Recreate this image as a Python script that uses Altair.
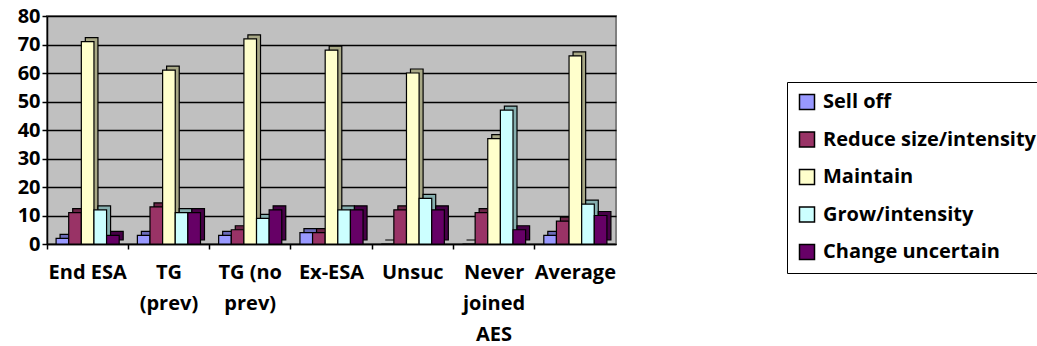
import altair as alt
import pandas as pd

# Category labels, split into the lines they are printed on
CATEGORY_LINES = [
    ["End ESA"],
    ["TG", "(prev)"],
    ["TG (no", "prev)"],
    ["Ex-ESA"],
    ["Unsuc"],
    ["Never", "joined", "AES"],
    ["Average"],
]
CATEGORIES = [" ".join(lines) for lines in CATEGORY_LINES]

SERIES = ["Sell off", "Reduce size/intensity", "Maintain", "Grow/intensity", "Change uncertain"]

SELL_OFF = [2, 3, 3, 4, 0, 0, 3]
REDUCE = [11, 13, 5, 4, 12, 11, 8]
MAINTAIN = [71, 61, 72, 68, 60, 37, 66]
GROW = [12, 11, 9, 12, 16, 47, 14]
CHANGE = [3, 11, 12, 12, 12, 5, 10]

FACE_COLORS = ["#9999FF", "#993366", "#FFFFCC", "#CCFFFF", "#660066"]
SIDE_COLORS = ["#6B6BB8", "#6B2447", "#A8A886", "#86AFAF", "#470047"]

FONT = "Open Sans"
FONT_SIZE = 20
PLOT_W, PLOT_H = 569, 228
DEPTH = 4

rows = []
for series, values in zip(SERIES, [SELL_OFF, REDUCE, MAINTAIN, GROW, CHANGE]):
    for cat, v in zip(CATEGORIES, values):
        rows.append({"category": cat, "series": series, "value": v})
df = pd.DataFrame(rows)

# multi-line axis labels
label_expr = "datum.label"
for cat, lines in reversed(list(zip(CATEGORIES, CATEGORY_LINES))):
    if len(lines) > 1:
        arr = "[" + ",".join("'" + s + "'" for s in lines) + "]"
        label_expr = f"datum.label == '{cat}' ? {arr} : ({label_expr})"

x_enc = alt.X(
    "category:N",
    sort=CATEGORIES,
    scale=alt.Scale(paddingInner=0, paddingOuter=0),
    axis=alt.Axis(
        title=None,
        labelAngle=0,
        labelExpr=label_expr,
        bandPosition=0,
        labelBaseline="top",
        labelPadding=13,
        labelLineHeight=31,
        tickSize=5,
    ),
)
step = PLOT_W / len(CATEGORIES)
y_enc = alt.Y(
    "value:Q",
    scale=alt.Scale(domain=[0, 80]),
    axis=alt.Axis(title=None, values=list(range(0, 81, 10)), tickSize=5, labelPadding=2),
)

# depth of each column: drawn behind, shifted up and to the right
depth = alt.Chart(df).mark_bar(stroke="black", strokeWidth=1.2, yOffset=-DEPTH).encode(
    x=x_enc,
    xOffset=alt.XOffset(
        "series:N", sort=SERIES,
        scale=alt.Scale(paddingInner=0, paddingOuter=0.72, range=[DEPTH, step + DEPTH]),
    ),
    y=y_enc,
    color=alt.Color("series:N", sort=SERIES, scale=alt.Scale(domain=SERIES, range=SIDE_COLORS), legend=None),
)

front = alt.Chart(df).mark_bar(stroke="black", strokeWidth=1.2).encode(
    x=x_enc,
    xOffset=alt.XOffset(
        "series:N", sort=SERIES,
        scale=alt.Scale(paddingInner=0, paddingOuter=0.72, range=[0, step]),
    ),
    y=y_enc,
    color=alt.Color(
        "series:N",
        sort=SERIES,
        scale=alt.Scale(domain=SERIES, range=FACE_COLORS),
        legend=alt.Legend(
            title=None,
            orient="none",
            legendX=740,
            legendY=66,
            symbolType="square",
            symbolSize=225,
            symbolStrokeColor="black",
            symbolStrokeWidth=1.5,
            labelFontSize=FONT_SIZE,
            labelFont=FONT,
            labelFontWeight="bold",
            labelColor="black",
            labelOffset=6,
            labelLimit=400,
            rowPadding=15.5,
            padding=10,
            strokeColor="black",
        ),
    ),
)

chart = (
    alt.layer(depth, front)
    .resolve_scale(color="independent", xOffset="independent")
    .properties(
        width=PLOT_W,
        height=PLOT_H,
        padding={"left": 47, "top": 16, "right": 1037 - 47 - PLOT_W, "bottom": 346 - 16 - PLOT_H},
        autosize=alt.AutoSizeParams(type="none"),
    )
    .configure_view(fill="#C0C0C0", stroke="#808080", strokeWidth=2)
    .configure_axis(
        labelFont=FONT,
        labelFontWeight="bold",
        labelFontSize=FONT_SIZE,
        labelColor="black",
        domainColor="black",
        domainWidth=1.5,
        tickColor="black",
        tickWidth=1.5,
        gridColor="black",
        gridWidth=1.5,
    )
    .configure_axisX(grid=False)
)

chart.save("out.html", embed_options={"renderer": "svg", "actions": False})
